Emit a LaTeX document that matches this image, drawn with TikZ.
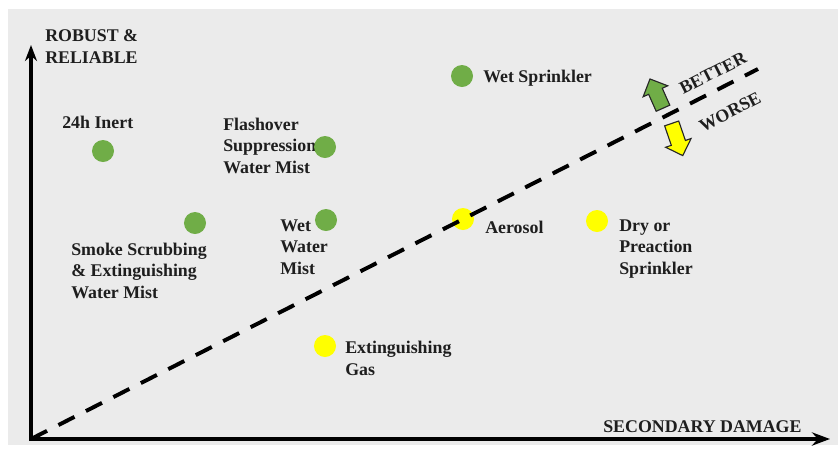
\documentclass[tikz,border=0pt]{standalone}
\usepackage{fontspec}
\setmainfont{Liberation Serif}
\usetikzlibrary{arrows.meta,shapes.arrows}

\definecolor{bggray}{HTML}{EBEBEB}
\definecolor{dotgreen}{HTML}{70AD47}
\definecolor{dotyellow}{HTML}{FFFF00}
\definecolor{txt}{HTML}{1E1E1E}

\tikzset{
  dot/.style={circle, inner sep=0pt, minimum size=0.55cm},
  lbl/.style={anchor=base west, inner sep=0pt, align=left, text=txt,
    font=\bfseries\fontsize{12.7}{15}\selectfont},
  bigarrow/.style={single arrow, draw=black!85, line width=0.8pt, inner sep=4.9pt,
    single arrow head extend=0.15cm}
}

\begin{document}
\begin{tikzpicture}[x=0.025cm, y=-0.025cm]
\useasboundingbox (0,0) rectangle (838,449);
\fill[bggray] (8,9) rectangle (838,445);

% 坐标轴 (多行文字按最后一行的基线放置)
\coordinate (O) at (31,439);
\coordinate (ytop) at (31,45);
\coordinate (xend) at (830,439);
\coordinate (dend) at (758,69);
\draw[line width=2.2pt, {Stealth[length=0.4cm,width=0.3cm]}-{Stealth[length=0.45cm,width=0.33cm]}] (ytop) -- (O) -- (xend);
\node[lbl] (ylbl) at (45,63) {ROBUST \&\\RELIABLE};
\node[lbl] (xlbl) at (603,432) {SECONDARY DAMAGE};

% 各点的说明文字
\node[lbl] (inertlbl) at (62,128) {24h Inert};
\node[lbl] (flashlbl) at (223,173) {Flashover\\Suppression\\Water Mist};
\node[lbl] (smokelbl) at (71,298) {Smoke Scrubbing\\\& Extinguishing\\Water Mist};
\node[lbl] (wetmistlbl) at (280,274) {Wet\\Water\\Mist};
\node[lbl] (wetsprlbl) at (483,82) {Wet Sprinkler};
\node[lbl] (aerosollbl) at (485,233) {Aerosol};
\node[lbl] (drylbl) at (619,274) {Dry or\\Preaction\\Sprinkler};
\node[lbl] (gaslbl) at (345,375) {Extinguishing\\Gas};

% 绿点与黄点
\node[dot, fill=dotgreen] (inert) at (103,151) {};
\node[dot, fill=dotgreen] (flash) at (325,147) {};
\node[dot, fill=dotgreen] (smoke) at (195,223) {};
\node[dot, fill=dotgreen] (wetmist) at (326,220) {};
\node[dot, fill=dotgreen] (wetspr) at (462,76) {};
\node[dot, fill=dotyellow] (aerosol) at (463,219) {};
\node[dot, fill=dotyellow] (dry) at (597,221) {};
\node[dot, fill=dotyellow] (gas) at (325,346) {};

% 分界线及箭头
\draw[line width=2.8pt, dash pattern=on 0.45cm off 0.32cm] (O) -- (dend);
\node[bigarrow, fill=dotgreen, minimum height=0.8cm, rotate=114] (better) at (658,97) {};
\node[bigarrow, fill=dotyellow, minimum height=0.85cm, rotate=-71] (worse) at (676,136) {};
\node[lbl, anchor=center, rotate=27] (betterlbl) at (713,73) {BETTER};
\node[lbl, anchor=center, rotate=27] (worselbl) at (730,112) {WORSE};
\end{tikzpicture}
\end{document}
